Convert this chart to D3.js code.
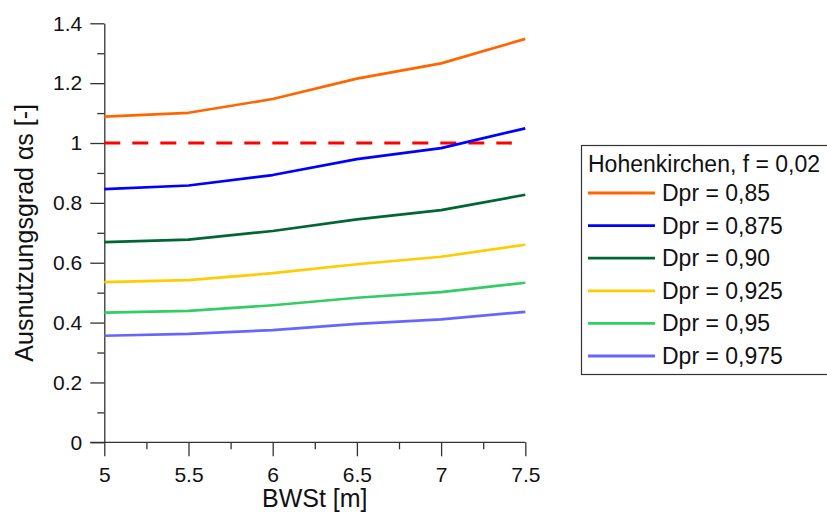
<!DOCTYPE html>
<html>
<head>
<meta charset="utf-8">
<script src="https://cdn.jsdelivr.net/npm/d3@7"></script>
<style>
  html, body { margin: 0; padding: 0; background: #fff; }
  svg { display: block; font-family: "Liberation Sans", Arial, sans-serif; }
</style>
</head>
<body>
<svg id="chart" width="827" height="512"></svg>
<script>
const xValues = [5, 5.5, 6, 6.5, 7, 7.5];
const seriesNames = ["Dpr = 0,85", "Dpr = 0,875", "Dpr = 0,90", "Dpr = 0,925", "Dpr = 0,95", "Dpr = 0,975"];
const seriesColors = ["#ff6600", "#0000ff", "#006633", "#ffcc00", "#33cc66", "#6666ff"];
const s085  = [1.088, 1.101, 1.147, 1.215, 1.266, 1.348];
const s0875 = [0.846, 0.858, 0.893, 0.946, 0.983, 1.049];
const s090  = [0.669, 0.677, 0.706, 0.745, 0.776, 0.827];
const s0925 = [0.535, 0.542, 0.565, 0.595, 0.620, 0.660];
const s095  = [0.433, 0.439, 0.458, 0.483, 0.502, 0.533];
const s0975 = [0.356, 0.362, 0.375, 0.396, 0.411, 0.436];
const seriesValues = [s085, s0875, s090, s0925, s095, s0975];
const refLine = { x0: 5, x1: 7.42, y: 1.0 };
const xTicks = [5, 5.5, 6, 6.5, 7, 7.5];
const xMinorTicks = [5.25, 5.75, 6.25, 6.75, 7.25];
const yTicks = [0, 0.2, 0.4, 0.6, 0.8, 1, 1.2, 1.4];
const yMinorTicks = [0.1, 0.3, 0.5, 0.7, 0.9, 1.1, 1.3];
const legendTitle = "Hohenkirchen, f = 0,02";
const xTitle = "BWSt [m]";
const yTitle = "Ausnutzungsgrad αs [-]";

const svg = d3.select("#chart");
const x = d3.scaleLinear().domain([5, 7.5]).range([104.3, 525.3]);
const y = d3.scaleLinear().domain([0, 1.4]).range([442.3, 23.3]);
const axisColor = "#333";
const tickFs = 21, titleFs = 25, legendFs = 23;
const ff = "Liberation Sans, Arial, sans-serif";

// Y axis
const yAxis = svg.append("g").attr("transform", `translate(${x(5)},0)`)
  .call(d3.axisLeft(y).tickValues(yTicks).tickSize(14).tickSizeOuter(0).tickPadding(8)
    .tickFormat(d3.format("")));
yAxis.select(".domain").attr("stroke", axisColor).attr("stroke-width", 1.3);
yAxis.selectAll(".tick line").attr("stroke", axisColor).attr("stroke-width", 1.3);
yAxis.selectAll(".tick text").attr("font-size", tickFs).attr("fill", "#111").style("font-family", ff);
svg.append("g").attr("transform", `translate(${x(5)},0)`)
  .call(d3.axisLeft(y).tickValues(yMinorTicks).tickSize(7).tickFormat(""))
  .call(g => g.select(".domain").remove())
  .selectAll("line").attr("stroke", axisColor).attr("stroke-width", 1.3);

// X axis
const xAxis = svg.append("g").attr("transform", `translate(0,${y(0)})`)
  .call(d3.axisBottom(x).tickValues(xTicks).tickSize(14).tickSizeOuter(0).tickPadding(11)
    .tickFormat(d3.format("")));
xAxis.select(".domain").attr("stroke", axisColor).attr("stroke-width", 1.3)
  .attr("d", `M${x(5) - 14},0H${x(7.5)}`);
xAxis.selectAll(".tick line").attr("stroke", axisColor).attr("stroke-width", 1.3);
xAxis.selectAll(".tick text").attr("font-size", tickFs).attr("fill", "#111").style("font-family", ff);
svg.append("g").attr("transform", `translate(0,${y(0)})`)
  .call(d3.axisBottom(x).tickValues(xMinorTicks).tickSize(7).tickFormat(""))
  .call(g => g.select(".domain").remove())
  .selectAll("line").attr("stroke", axisColor).attr("stroke-width", 1.3);

// Axis titles
svg.append("text").attr("x", (x(5) + x(7.5)) / 2).attr("y", 507)
  .attr("text-anchor", "middle").attr("font-size", titleFs).attr("fill", "#111").text(xTitle);
svg.append("text").attr("transform", `translate(33,${(y(0) + y(1.4)) / 2}) rotate(-90)`)
  .attr("text-anchor", "middle").attr("font-size", titleFs).attr("fill", "#111").text(yTitle);

// Reference line
svg.append("line")
  .attr("x1", x(refLine.x0)).attr("x2", x(refLine.x1))
  .attr("y1", y(refLine.y)).attr("y2", y(refLine.y))
  .attr("stroke", "#ff0000").attr("stroke-width", 3.2)
  .attr("stroke-dasharray", "16,12");

// Series
const line = d3.line().x((d, i) => x(xValues[i])).y(d => y(d));
seriesValues.forEach((vals, k) => {
  svg.append("path").datum(vals).attr("d", line)
    .attr("fill", "none").attr("stroke", seriesColors[k]).attr("stroke-width", 2.7)
    .attr("stroke-linejoin", "round");
});

// Legend
const lg = svg.append("g");
lg.append("rect").attr("x", 581.5).attr("y", 145.5).attr("width", 260).attr("height", 229)
  .attr("fill", "#fff").attr("stroke", "#333").attr("stroke-width", 1.2);
lg.append("text").attr("x", 588).attr("y", 172).attr("font-size", legendFs).attr("fill", "#111").text(legendTitle);
seriesNames.forEach((name, k) => {
  const yy = 193 + k * 32.6;
  lg.append("line").attr("x1", 588).attr("x2", 655).attr("y1", yy).attr("y2", yy)
    .attr("stroke", seriesColors[k]).attr("stroke-width", 2.8);
  lg.append("text").attr("x", 662).attr("y", yy + 8).attr("font-size", legendFs).attr("fill", "#111").text(name);
});
</script>
</body>
</html>
